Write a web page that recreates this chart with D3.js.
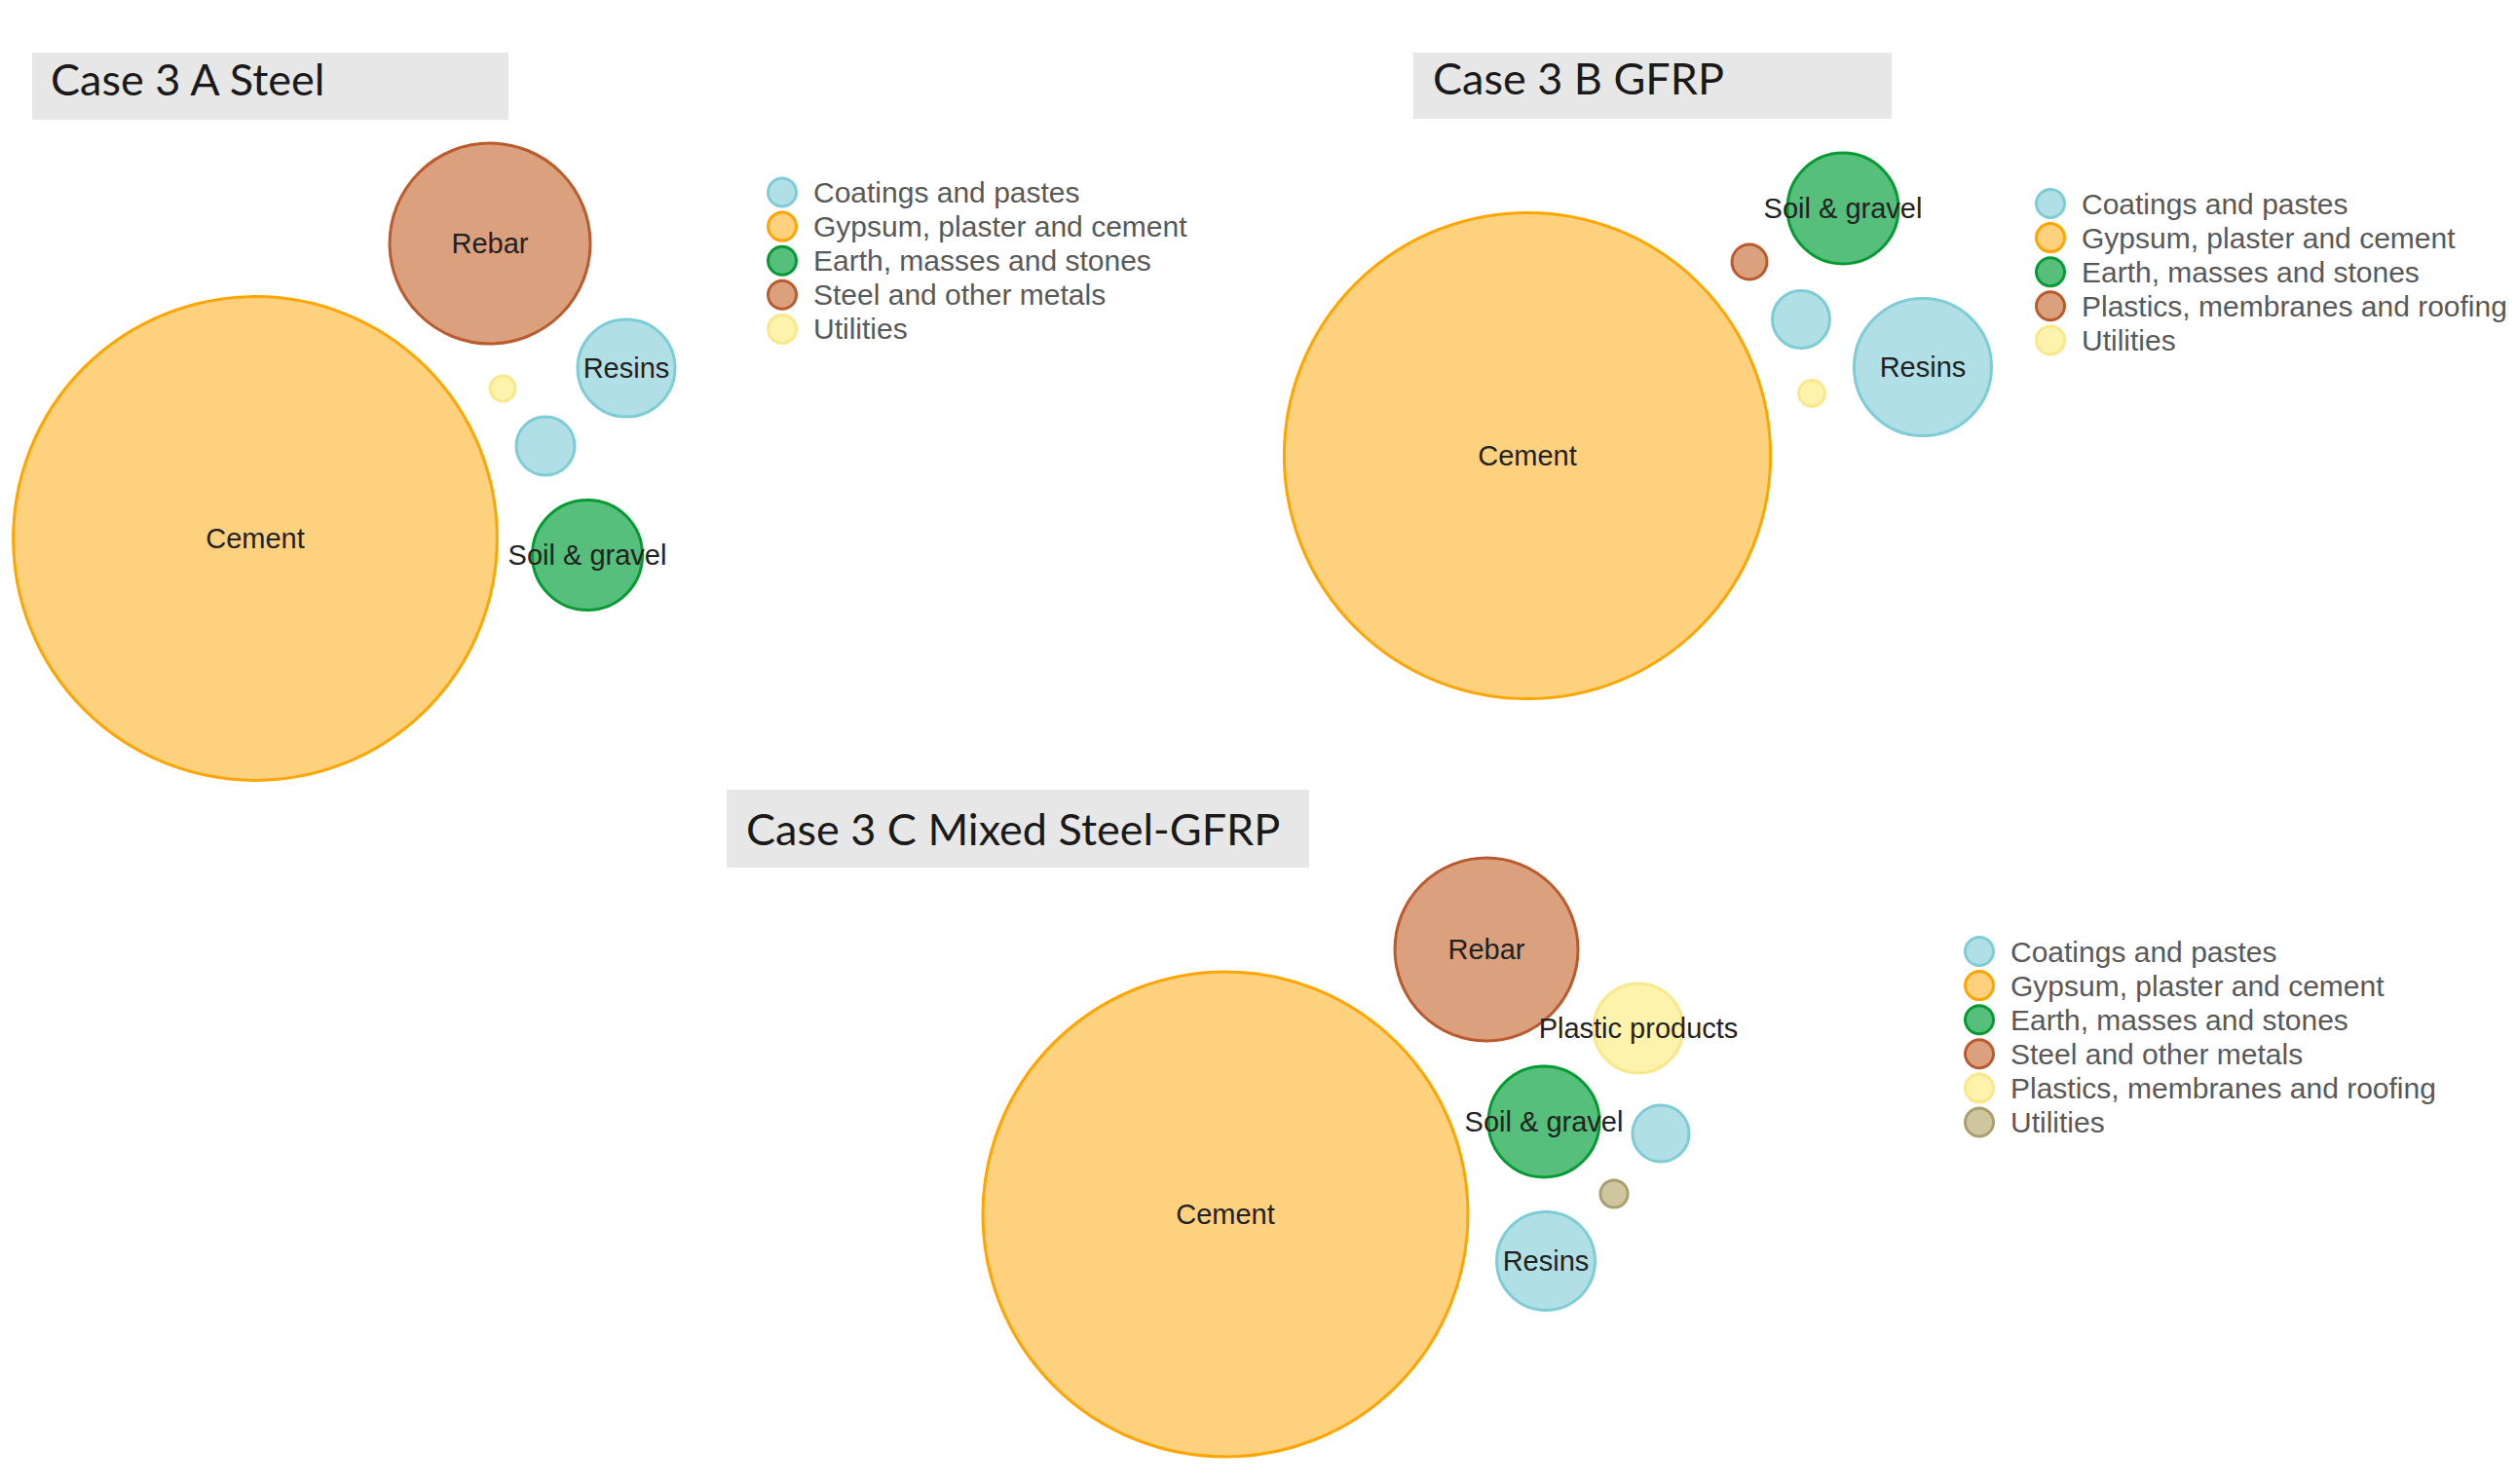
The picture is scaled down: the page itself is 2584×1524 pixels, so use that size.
<!DOCTYPE html>
<html>
<head>
<meta charset="utf-8">
<script src="https://cdn.jsdelivr.net/npm/d3@7"></script>
<style>
  html, body { margin: 0; padding: 0; background: #ffffff; }
  svg { display: block; }
</style>
</head>
<body>
<svg id="chart" width="2584" height="1524"></svg>
<script>
// ---------------- DATA ----------------
// Case 3 A Steel
const caseA_title = "Case 3 A Steel";
const caseA_legend = ["Coatings and pastes", "Gypsum, plaster and cement", "Earth, masses and stones", "Steel and other metals", "Utilities"];
const caseA_labels = ["Cement", "Rebar", "Resins", "", "", "Soil & gravel"];
const caseA_groups = ["Gypsum, plaster and cement", "Steel and other metals", "Coatings and pastes", "Utilities", "Coatings and pastes", "Earth, masses and stones"];
const caseA_values = [99.5, 17.1, 4.03, 0.27, 1.45, 5.15];
const caseA_x = [0, 241, 381, 254, 298, 341];
const caseA_y = [0, 303, 175, 154, 95, -17];

// Case 3 B GFRP
const caseB_title = "Case 3 B GFRP";
const caseB_legend = ["Coatings and pastes", "Gypsum, plaster and cement", "Earth, masses and stones", "Plastics, membranes and roofing", "Utilities"];
const caseB_labels = ["Cement", "Soil & gravel", "", "", "Resins", ""];
const caseB_groups = ["Gypsum, plaster and cement", "Earth, masses and stones", "Plastics, membranes and roofing", "Coatings and pastes", "Coatings and pastes", "Utilities"];
const caseB_values = [100.5, 5.24, 0.52, 1.40, 8.02, 0.29];
const caseB_x = [0, 324, 228, 281, 406, 292];
const caseB_y = [0, 254, 199, 140, 91, 64];

// Case 3 C Mixed Steel-GFRP
const caseC_title = "Case 3 C Mixed Steel-GFRP";
const caseC_legend = ["Coatings and pastes", "Gypsum, plaster and cement", "Earth, masses and stones", "Steel and other metals", "Plastics, membranes and roofing", "Utilities"];
const caseC_labels = ["Cement", "Rebar", "Plastic products", "Soil & gravel", "", "", "Resins"];
const caseC_groups = ["Gypsum, plaster and cement", "Steel and other metals", "Plastics, membranes and roofing", "Earth, masses and stones", "Coatings and pastes", "Utilities", "Coatings and pastes"];
const caseC_values = [100, 14.25, 3.41, 5.24, 1.36, 0.32, 4.11];
const caseC_x = [0, 268, 424, 327, 447, 399, 329];
const caseC_y = [0, 272, 191, 95, 83, 21, -48];

// ---------------- STYLE ----------------
const paletteFill   = ["#b0e0e6", "#fed17e", "#55bf7b", "#dba07d", "#fdf3ad", "#cfc69f"];
const paletteStroke = ["#7ecdd6", "#ffa500", "#069a32", "#bb5a2c", "#f8e88a", "#a99f6f"];

const svg = d3.select("#chart");
const sizeScale = d3.scaleSqrt().domain([0, 100]).range([0, 249]);

const panels = [
  { title: caseA_title, legend: caseA_legend, labels: caseA_labels, groups: caseA_groups, values: caseA_values, xs: caseA_x, ys: caseA_y,
    origin: [262, 553], box: [33, 54, 489, 69], titlePos: [52, 98], legendPos: [803, 197.5] },
  { title: caseB_title, legend: caseB_legend, labels: caseB_labels, groups: caseB_groups, values: caseB_values, xs: caseB_x, ys: caseB_y,
    origin: [1568, 468], box: [1451, 54, 491, 68], titlePos: [1471, 97], legendPos: [2105, 209] },
  { title: caseC_title, legend: caseC_legend, labels: caseC_labels, groups: caseC_groups, values: caseC_values, xs: caseC_x, ys: caseC_y,
    origin: [1258, 1247], box: [746, 811, 598, 80], titlePos: [766, 868], legendPos: [2032, 977] }
];

panels.forEach(p => {
  const g = svg.append("g");
  const x = d3.scaleLinear().domain([-300, 600]).range([p.origin[0] - 300, p.origin[0] + 600]);
  const y = d3.scaleLinear().domain([-400, 400]).range([p.origin[1] + 400, p.origin[1] - 400]);
  const fill = d3.scaleOrdinal().domain(p.legend).range(paletteFill);
  const stroke = d3.scaleOrdinal().domain(p.legend).range(paletteStroke);

  // title box
  g.append("rect")
    .attr("x", p.box[0]).attr("y", p.box[1])
    .attr("width", p.box[2]).attr("height", p.box[3])
    .attr("fill", "#e7e7e7");
  g.append("text")
    .attr("x", p.titlePos[0]).attr("y", p.titlePos[1])
    .attr("font-family", "Lato, 'Open Sans', sans-serif")
    .attr("font-size", 45)
    .attr("fill", "#1a1a1a")
    .text(p.title);

  const data = p.values.map((v, i) => ({ value: v, label: p.labels[i], group: p.groups[i], x: p.xs[i], y: p.ys[i] }));

  g.selectAll("circle.bubble")
    .data(data)
    .join("circle")
    .attr("class", "bubble")
    .attr("cx", d => x(d.x))
    .attr("cy", d => y(d.y))
    .attr("r", d => sizeScale(d.value))
    .attr("fill", d => fill(d.group))
    .attr("stroke", d => stroke(d.group))
    .attr("stroke-width", 3);

  g.selectAll("text.lbl")
    .data(data.filter(d => d.label))
    .join("text")
    .attr("class", "lbl")
    .attr("x", d => x(d.x))
    .attr("y", d => y(d.y))
    .attr("text-anchor", "middle")
    .attr("dominant-baseline", "central")
    .attr("font-family", "'Liberation Sans', Arial, sans-serif")
    .attr("font-size", 29)
    .attr("fill", "#222")
    .text(d => d.label);

  // legend
  const lg = g.append("g").attr("transform", `translate(${p.legendPos[0]},${p.legendPos[1]})`);
  const item = lg.selectAll("g.item")
    .data(p.legend)
    .join("g")
    .attr("class", "item")
    .attr("transform", (d, i) => `translate(0,${i * 35.1})`);
  item.append("circle")
    .attr("r", 14.5)
    .attr("fill", d => fill(d))
    .attr("stroke", d => stroke(d))
    .attr("stroke-width", 3);
  item.append("text")
    .attr("x", 32)
    .attr("y", 0)
    .attr("dominant-baseline", "central")
    .attr("font-family", "'Liberation Sans', Arial, sans-serif")
    .attr("font-size", 30)
    .attr("fill", "#595959")
    .text(d => d);
});
</script>
</body>
</html>
